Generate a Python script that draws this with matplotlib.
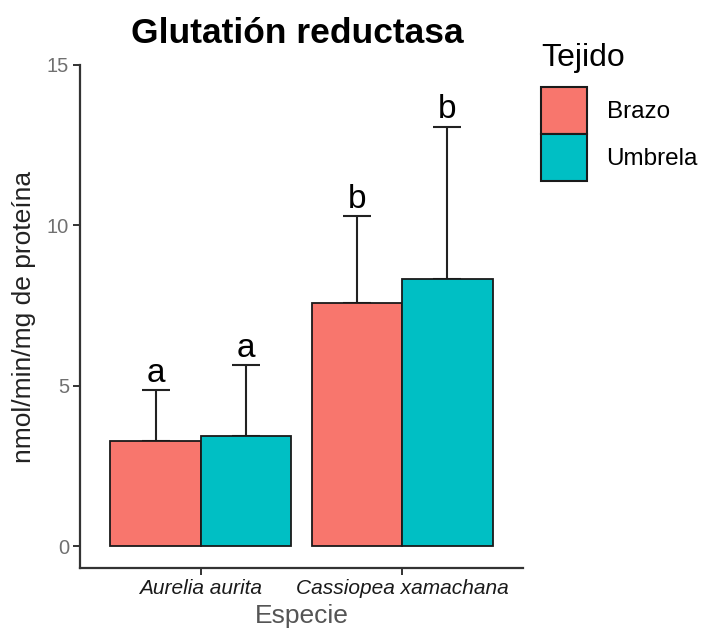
import matplotlib
matplotlib.use("Agg")
import matplotlib.pyplot as plt
import numpy as np
from matplotlib.patches import Patch

plt.rcParams['font.family'] = ['Liberation Sans', 'DejaVu Sans']

species = ["Aurelia aurita", "Cassiopea xamachana"]
tissues = ["Brazo", "Umbrela"]
means = {"Brazo": [3.27, 7.59], "Umbrela": [3.45, 8.32]}
errors = {"Brazo": [1.59, 2.70], "Umbrela": [2.20, 4.76]}
letters = {"Brazo": ["a", "b"], "Umbrela": ["a", "b"]}
colors = {"Brazo": "#F8766D", "Umbrela": "#00BFC4"}
yticks = [0, 5, 10, 15]

fig = plt.figure(figsize=(7.04, 6.29), dpi=100)
ax = fig.add_axes([80/704, 1-568/629, (523-80)/704, (568-65)/629])

x = np.arange(1, len(species)+1)
w = 0.45
for i, t in enumerate(tissues):
    pos = x + (i - 0.5) * w
    m = np.array(means[t]); e = np.array(errors[t])
    ax.bar(pos, m, width=w, color=colors[t], edgecolor='#1a1a1a', linewidth=1.3, zorder=2)
    ax.errorbar(pos, m, yerr=[np.zeros_like(e), e], fmt='none', ecolor='#222222',
                elinewidth=1.5, capsize=10, capthick=1.5, zorder=1)
    for p, top, lab in zip(pos, m + e, letters[t]):
        ax.annotate(lab, (p, top), xytext=(0, 1), textcoords='offset points',
                    ha='center', va='bottom', fontsize=24, color='black')

ax.set_xlim(0.4, 2.6)
ax.set_ylim(-0.68, 15)
ax.set_xticks(x)
ax.set_xticklabels(species, fontstyle='italic', fontsize=15, color='#1a1a1a')
ax.set_yticks(yticks)
ax.set_yticklabels([str(v) for v in yticks], fontsize=14.5, color='#707070')
for s in ['top', 'right']:
    ax.spines[s].set_visible(False)
for s in ['left', 'bottom']:
    ax.spines[s].set_linewidth(1.6)
    ax.spines[s].set_color('#333333')
ax.spines['left'].set_bounds(-0.68, 15)
ax.tick_params(axis='both', width=1.4, length=5, color='#333333', pad=3)
ax.set_xlabel("Especie", fontsize=19, color='#555555', labelpad=4)
ax.set_ylabel("nmol/min/mg de proteína", fontsize=19, color='#222222', labelpad=8)
ax.set_title("Glutatión reductasa", fontsize=25.5, fontweight='bold', pad=16, x=0.49)

handles = [Patch(facecolor=colors[t], edgecolor='#1a1a1a', linewidth=1.5) for t in tissues]
leg = fig.legend(handles, tissues, title="Tejido", loc='upper left',
                 bbox_to_anchor=(541/704, 1-43/629), frameon=False,
                 fontsize=17.5, title_fontsize=23, handlelength=1.9, handleheight=2.6,
                 handletextpad=0.8, labelspacing=0.0, borderaxespad=0, borderpad=0)
leg._legend_box.align = 'left'
leg._legend_box.sep = 10

fig.savefig("out.png", dpi=100)
